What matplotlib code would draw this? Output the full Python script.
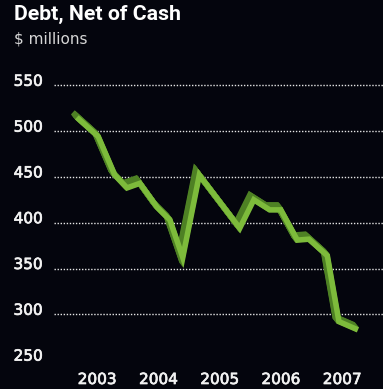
import matplotlib
matplotlib.use("Agg")
import matplotlib.pyplot as plt
import matplotlib.transforms as mtransforms
import matplotlib.patheffects as pe

# Debt, net of cash ($ millions), by date (decimal years)
dates = [2003.17, 2003.52, 2003.79, 2003.99, 2004.20, 2004.48, 2004.69, 2004.90,
         2005.17, 2005.83, 2006.06, 2006.32, 2006.50, 2006.77, 2006.96, 2007.26,
         2007.45, 2007.76]
debt = [515, 494, 452, 438, 443, 417, 403, 362,
        452, 394, 425, 414, 414, 381, 382, 364,
        292, 283]

years = [2003, 2004, 2005, 2006, 2007]
y_ticks = [250, 300, 350, 400, 450, 500, 550]
grid_levels = [300, 350, 400, 450, 500, 550]

BG = "#04050d"
LIGHT = "#7dbb3b"
DARK = "#4e8124"
LABEL = "#f2f2f2"

W, H = 383, 389
fig = plt.figure(figsize=(W / 100, H / 100), dpi=100, facecolor=BG)

# axes box in pixels (left, top, right, bottom)
left_px, top_px, right_px, bottom_px = 54, 70, 383, 365
ax = fig.add_axes([left_px / W, 1 - bottom_px / H,
                   (right_px - left_px) / W, (bottom_px - top_px) / H])
ax.set_facecolor(BG)

px_per_unit = 0.916
y550_px = 85.3
ax.set_ylim(550 - (bottom_px - y550_px) / px_per_unit,
            550 + (y550_px - top_px) / px_per_unit)
px_per_year = 61.25
x2003_px = 66.4
ax.set_xlim(2003 + (left_px - x2003_px) / px_per_year,
            2003 + (right_px - x2003_px) / px_per_year)

for s in ax.spines.values():
    s.set_visible(False)
ax.set_xticks([])
ax.set_yticks([])

# dotted grid
for lv in grid_levels:
    ax.axhline(lv, color="#e6e6e6", lw=1.0, linestyle=(0, (1, 1.2)), zorder=1)

# extruded ribbon: darker side face stacked up-left, bright face on top
LW = 4.0
steps = 10
for i in range(steps, 0, -1):
    f = i / steps
    off = mtransforms.ScaledTranslation(-4 * f / 100, 5 * f / 100, fig.dpi_scale_trans)
    ax.plot(dates, debt, color=DARK, lw=LW, solid_capstyle="butt",
            solid_joinstyle="miter", transform=ax.transData + off, zorder=2)
ax.plot(dates, debt, color=LIGHT, lw=LW, solid_capstyle="butt",
        solid_joinstyle="miter", zorder=3)

# slightly heavier digits for the axis labels
heavy = [pe.withStroke(linewidth=0.5, foreground=LABEL)]

# y labels, sitting slightly above their gridlines
lab_off = mtransforms.ScaledTranslation(0, 4 / 100, fig.dpi_scale_trans)
ytrans = mtransforms.blended_transform_factory(fig.transFigure, ax.transData) + lab_off
for v in y_ticks:
    ax.text(42.5 / W, v, str(v), transform=ytrans, ha="right", va="center",
            color=LABEL, fontsize=11, family="DejaVu Sans", path_effects=heavy)

# year labels
xtrans = mtransforms.blended_transform_factory(ax.transData, fig.transFigure)
for yr in years:
    ax.text(yr + 0.5, 1 - 379.5 / H, str(yr), transform=xtrans, ha="center",
            va="center", color=LABEL, fontsize=11, family="DejaVu Sans",
            path_effects=heavy)

fig.text(14 / W, 1 - 5 / H, "Debt, Net of Cash", ha="left", va="top",
         color="#ffffff", fontsize=15.3, family="Roboto", fontweight="bold")
fig.text(14.5 / W, 1 - 31 / H, "$ millions", ha="left", va="top",
         color="#d6d6d6", fontsize=11, family="DejaVu Sans")

fig.savefig("out.png", dpi=100, facecolor=BG)
